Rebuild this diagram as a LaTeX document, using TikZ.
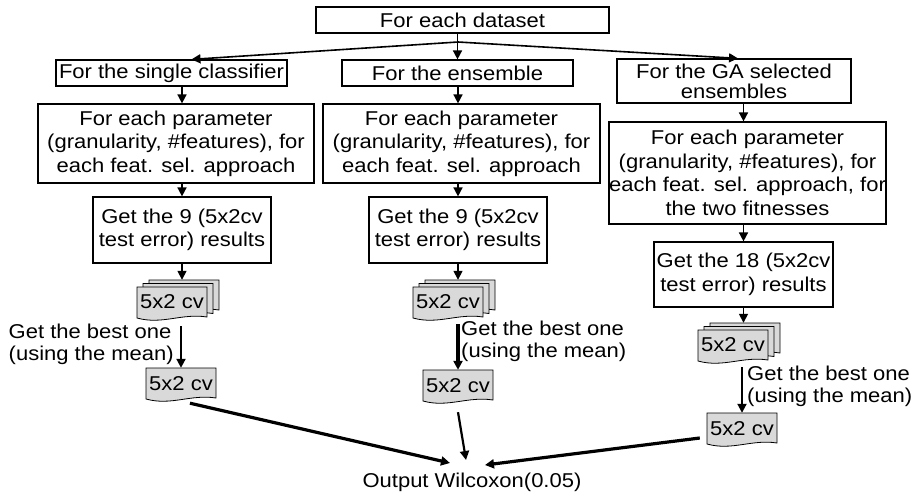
\documentclass[tikz,border=0pt]{standalone}
\usepackage{fontspec}
\setmainfont{Liberation Sans}[FakeStretch=1.1]
\usetikzlibrary{arrows.meta,backgrounds}
\newcommand\mydoc[2]{\path[docline,shift={(#1,#2)}] (0,0) -- (70,0) -- (70,30) .. controls (45,26) and (25,38) .. (0,31) -- cycle;}
\newcommand\mystack[2]{\mydoc{#1+12}{#2-7}\mydoc{#1+6}{#2-3.5}\mydoc{#1}{#2}}
\begin{document}
\begin{tikzpicture}[x=1pt,y=-1pt,
  font=\fontsize{20}{23.5}\selectfont,
  box/.style={draw, line width=1.2pt, inner sep=0pt, align=center},
  ar/.style={-{Triangle[length=9pt,width=9pt]}, line width=1.6pt},
  docline/.style={draw=black, fill=black!15, line width=0.8pt},
  lbl/.style={inner sep=0pt, align=left, font=\fontsize{20}{22}\selectfont},
  ghost/.style={inner sep=0pt, minimum width=70pt, minimum height=32pt}
]
\useasboundingbox (0,0) rectangle (915,495);

% boxes
\node[box, minimum width=293pt, minimum height=26pt] (top) at (462.5,20) {For each dataset};
\node[box, minimum width=231pt, minimum height=26pt] (single) at (171.5,73) {For the single classifier};
\node[box, minimum width=231pt, minimum height=26pt] (ens) at (457.5,73) {For the ensemble};
\node[box, minimum width=234pt, minimum height=44pt, font=\fontsize{20}{20}\selectfont] (ga) at (734,81) {For the GA selected\\ensembles};
\node[box, minimum width=276pt, minimum height=79pt] (p1) at (176,143.5) {For each parameter\\(granularity, \#features), for\\each feat. sel. approach};
\node[box, minimum width=277pt, minimum height=79pt] (p2) at (461.5,143.5) {For each parameter\\(granularity, \#features), for\\each feat. sel. approach};
\node[box, minimum width=277pt, minimum height=102pt] (gp) at (747.5,173) {For each parameter\\(granularity, \#features), for\\each feat. sel. approach, for\\the two fitnesses};
\node[box, minimum width=178pt, minimum height=66pt] (g1) at (182,230) {Get the 9 (5x2cv\\test error) results};
\node[box, minimum width=178pt, minimum height=66pt] (g2) at (458,230) {Get the 9 (5x2cv\\test error) results};
\node[box, minimum width=179pt, minimum height=65pt] (g18) at (743.5,274.5) {Get the 18 (5x2cv\\test error) results};

% document stacks (invisible extents) and texts
\node[inner sep=0pt, minimum width=82pt, minimum height=42pt] (stk1) at (178,301) {};
\node[inner sep=0pt, minimum width=82pt, minimum height=42pt] (stk2) at (454,301) {};
\node[inner sep=0pt, minimum width=82pt, minimum height=42pt] (stk3) at (739,344) {};
\node[inner sep=0pt] (s1) at (172,302) {5x2 cv};
\node[inner sep=0pt] (s2) at (448,302) {5x2 cv};
\node[inner sep=0pt] (s3) at (733,345) {5x2 cv};

% single documents
\node[ghost] (d1) at (181,384) {5x2 cv};
\node[ghost] (d2) at (458,386) {5x2 cv};
\node[ghost] (d3) at (742,429) {5x2 cv};

% labels
\node[lbl, anchor=east] (b1) at (174,344) {Get the best one\\(using the mean)};
\node[lbl, anchor=west] (b2) at (461,341.5) {Get the best one\\(using the mean)};
\node[lbl, anchor=west] (b3) at (747,386) {Get the best one\\(using the mean)};

\node[inner sep=0pt] (out) at (472,482) {Output Wilcoxon(0.05)};

\begin{scope}[on background layer]
  \mystack{137}{287}
  \mystack{413}{287}
  \mystack{698}{330}
  \mydoc{146}{368}
  \mydoc{423}{370}
  \mydoc{707}{413}
\end{scope}

% connectors
\coordinate (br) at (458,42);
\draw[ar] (top.south -| ens.north) -- (ens.north);
\draw[ar] (br) -- ([shift={(20,0)}]single.north);
\draw[ar] (br) -- ([shift={(4,0)}]ga.north);
\draw[ar] (single.south -| g1.north) -- (p1.north -| g1.north);
\draw[ar] (ens.south -| g2.north) -- (p2.north -| g2.north);
\draw[ar] (ga.south -| g18.north) -- (gp.north -| g18.north);
\draw[ar] (p1.south -| g1.north) -- (g1.north);
\draw[ar] (p2.south -| g2.north) -- (g2.north);
\draw[ar] (gp.south -| g18.north) -- (g18.north);
\draw[ar] (g1.south) -- (g1.south |- stk1.north);
\draw[ar] (g2.south) -- (g2.south |- stk2.north);
\draw[ar] (g18.south) -- (g18.south |- stk3.north);
\draw[ar, line width=2pt] ([shift={(0,4)}]stk1.south -| d1.north) -- (d1.north);
\draw[ar, line width=3.2pt] ([shift={(0,2)}]stk2.south -| d2.north) -- (d2.north);
\draw[ar, line width=2pt] ([shift={(0,2)}]stk3.south -| d3.north) -- (d3.north);
\draw[ar, line width=3.2pt] ([shift={(9,3)}]d1.south) -- ([shift={(-22,-19)}]out.center);
\draw[ar, line width=2.2pt] ([shift={(0,10)}]d2.south) -- ([shift={(-6,-22)}]out.center);
\draw[ar, line width=3.2pt] ([shift={(-7,9)}]d3.west) -- ([shift={(13,-17)}]out.center);
\end{tikzpicture}
\end{document}
